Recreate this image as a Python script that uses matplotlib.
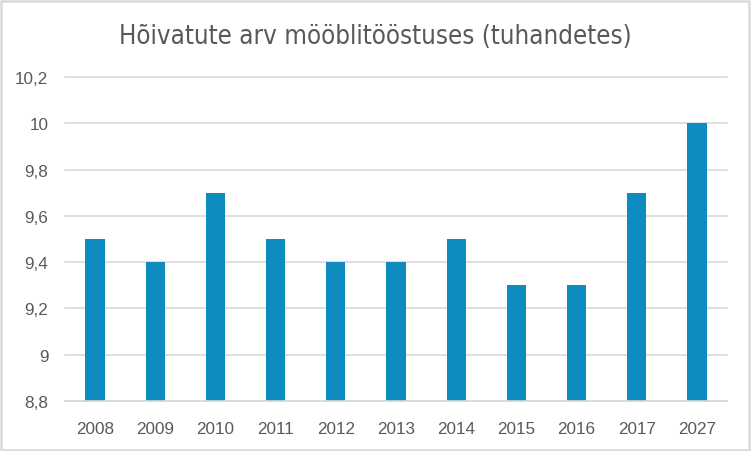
import matplotlib
matplotlib.use("Agg")
import matplotlib.pyplot as plt
from matplotlib.patches import Rectangle
from matplotlib.ticker import FuncFormatter

years = ["2008", "2009", "2010", "2011", "2012", "2013", "2014", "2015", "2016", "2017", "2027"]
values = [9.5, 9.4, 9.7, 9.5, 9.4, 9.4, 9.5, 9.3, 9.3, 9.7, 10.0]
y_ticks = [8.8, 9.0, 9.2, 9.4, 9.6, 9.8, 10.0, 10.2]
title = "Hõivatute arv mööblitööstuses (tuhandetes)"

W, H = 751, 452
fig = plt.figure(figsize=(W / 100, H / 100), dpi=100)
fig.patch.set_facecolor("white")
fig.patches.append(Rectangle((1 / W, 1 / H), 1 - 3 / W, 1 - 3 / H, transform=fig.transFigure,
                             fill=False, edgecolor="#D9D9D9", linewidth=1.8))

ax = fig.add_axes([65 / W, 1 - 402 / H, (727 - 65) / W, (402 - 78) / H])
x = list(range(len(years)))
ax.bar(x, values, width=0.32, color="#0E8BBF", bottom=0, zorder=3)
ax.set_xlim(-0.5, len(years) - 0.5)
ax.set_ylim(8.8, 10.2)
ax.set_yticks(y_ticks)
ax.yaxis.set_major_formatter(FuncFormatter(lambda v, p: (f"{v:.1f}".rstrip("0").rstrip(".")).replace(".", ",")))
ax.set_xticks(x)
ax.set_xticklabels(years)
ax.grid(axis="y", color="#D9D9D9", linewidth=1.2, zorder=0)
for gl in ax.get_ygridlines():
    gl.set_clip_on(False)
for s in ["top", "right", "left"]:
    ax.spines[s].set_visible(False)
ax.spines["bottom"].set_color("#D9D9D9")
ax.spines["bottom"].set_linewidth(1.2)
ax.spines["bottom"].set_zorder(4)
ax.tick_params(axis="both", length=0, labelsize=12.3, labelcolor="#595959")
for lab in ax.get_xticklabels() + ax.get_yticklabels():
    lab.set_family(["Liberation Sans", "DejaVu Sans"])
ax.tick_params(axis="x", pad=14.5)
ax.tick_params(axis="y", pad=12)
fig.text(0.5, 1 - 37 / H, title, ha="center", va="center", fontsize=18.5, color="#595959",
         family=["DejaVu Sans"], fontstretch="condensed")
fig.savefig("out.png", dpi=100)
